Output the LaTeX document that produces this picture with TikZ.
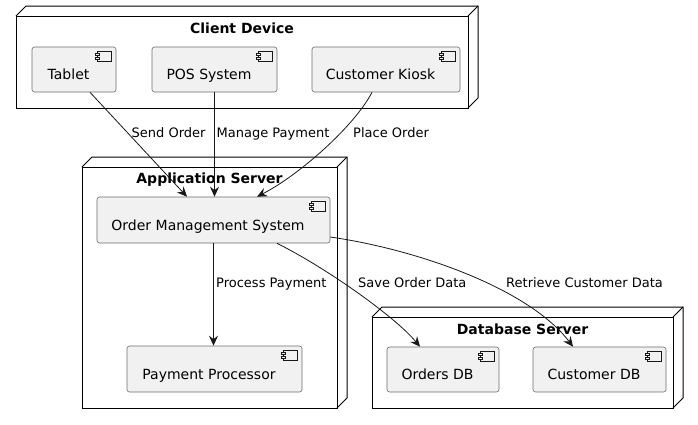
\documentclass[tikz,border=0pt]{standalone}
\usepackage{fontspec}
\setmainfont{DejaVu Sans}
\usetikzlibrary{arrows.meta}

\definecolor{compfill}{HTML}{F1F1F1}
\definecolor{compline}{HTML}{6E6E6E}
\definecolor{linkline}{HTML}{181818}

% узел-сервер: передняя грань и объемная часть
\newcommand{\servernode}[4]{%
	\draw [srvline, fill=white] ( #1, #2 ) rectangle ( #3, #4 );
	\draw [srvline] ( #1, #2 ) -- ( #1+10, #2-10 ) -- ( #3+10, #2-10 ) -- ( #3+10, #4-10 ) -- ( #3, #4 );
	\draw [srvline] ( #3, #2 ) -- ( #3+10, #2-10 );
}

% значок компонента в правом верхнем углу
\newcommand{\compicon}[1]{%
	\draw [iconline] ([shift={(-19,5)}]#1.north east) rectangle ++( 14, 10 );
	\draw [iconline, fill=compfill] ([shift={(-21,7)}]#1.north east) rectangle ++( 4, 2 );
	\draw [iconline, fill=compfill] ([shift={(-21,11)}]#1.north east) rectangle ++( 4, 2 );
}

\begin{document}
\begin{tikzpicture}[x=1pt, y=-1pt,
		srvline/.style={draw=black, line width=1pt},
		srvtitle/.style={anchor=base, inner sep=0pt, font=\fontsize{14}{16}\selectfont\bfseries},
		comp/.style={draw=compline, line width=0.6pt, fill=compfill, rounded corners=2.5pt,
			minimum height=45pt, inner sep=0pt, font=\fontsize{14}{16}\selectfont,
			text height=20pt, text depth=0pt, execute at end node={\hspace{11pt}}},
		iconline/.style={draw=linkline, line width=0.5pt},
		link/.style={draw=linkline, line width=0.8pt, -{Stealth[length=10pt, width=9pt, inset=3.5pt]}},
		elabel/.style={anchor=base west, inner sep=0pt, font=\fontsize{13}{15}\selectfont}]
	\useasboundingbox ( 0, 0 ) rectangle ( 698, 424 );

	% узлы
	\servernode{16}{16}{468}{108}
	\node [srvtitle] (client) at ( 242, 33 ) {Client Device};
	\servernode{82}{167}{337}{408}
	\node [srvtitle] (appsrv) at ( 209.5, 183.5 ) {Application Server};
	\servernode{372}{317}{673}{408}
	\node [srvtitle] (dbsrv) at ( 522.5, 334 ) {Database Server};

	% компоненты клиента
	\node [comp, minimum width=84pt] (tab) at ( 74, 69.5 ) {Tablet};
	\node [comp, minimum width=125pt] (pos) at ( 214.5, 69.5 ) {POS System};
	\node [comp, minimum width=148pt] (kio) at ( 386, 69.5 ) {Customer Kiosk};

	% компоненты сервера приложений
	\node [comp, minimum width=233pt, minimum height=46pt] (oms) at ( 213.5, 220 ) {Order Management System};
	\node [comp, minimum width=175pt, minimum height=46pt] (pay) at ( 214.5, 369 ) {Payment Processor};

	% базы данных
	\node [comp, minimum width=112pt] (odb) at ( 443, 369.5 ) {Orders DB};
	\node [comp, minimum width=133pt] (cdb) at ( 599.5, 369.5 ) {Customer DB};

	\compicon{tab}
	\compicon{pos}
	\compicon{kio}
	\compicon{oms}
	\compicon{pay}
	\compicon{odb}
	\compicon{cdb}

	% связи
	\draw [link] ([xshift=16pt]tab.south) -- ([xshift=-26.5pt]oms.north);
	\draw [link] (pos.south) -- (pos.south |- oms.north);
	\draw [link] ([xshift=-14pt]kio.south) .. controls +( -17, 33 ) and +( 43, -22 ) .. ([xshift=43.5pt]oms.north);
	\draw [link] (oms.south) -- (oms.south |- pay.north);
	\draw [link] ([xshift=63.5pt]oms.south) .. controls +( 50, 25 ) and +( -25, -30 ) .. ([xshift=-23pt]odb.north);
	\draw [link] ([yshift=-17pt]oms.east) .. controls +( 90, 13 ) and +( -43, -57 ) .. ([xshift=-26.5pt]cdb.north);

	% подписи связей
	\node [elabel] (lsend) at ( 131.5, 137.5 ) {Send Order};
	\node [elabel] (lmanage) at ( 216.5, 137.5 ) {Manage Payment};
	\node [elabel] (lplace) at ( 353, 137.5 ) {Place Order};
	\node [elabel] (lprocess) at ( 216, 287.5 ) {Process Payment};
	\node [elabel] (lsave) at ( 358, 287.5 ) {Save Order Data};
	\node [elabel] (lretrieve) at ( 506, 287.5 ) {Retrieve Customer Data};
\end{tikzpicture}
\end{document}
